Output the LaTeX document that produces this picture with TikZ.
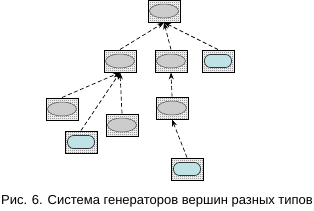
\documentclass[tikz,border=0pt]{standalone}
\usepackage{fontspec}
\setmainfont{Liberation Sans}
\usetikzlibrary{arrows.meta,patterns}
\pgfdeclarepatternformonly{finechecker}{\pgfpointorigin}{\pgfqpoint{2pt}{2pt}}{\pgfqpoint{2pt}{2pt}}{%
  \pgfpathrectangle{\pgfpointorigin}{\pgfqpoint{1pt}{1pt}}%
  \pgfpathrectangle{\pgfqpoint{1pt}{1pt}}{\pgfqpoint{1pt}{1pt}}%
  \pgfusepath{fill}}
\begin{document}
\begin{tikzpicture}[x=1pt,y=-1pt,
  genbox/.style={draw,line width=1pt,minimum width=32pt,minimum height=22pt,inner sep=0pt,
    pattern=finechecker,pattern color=black!60},
  grayoval/.style={genbox,path picture={\filldraw[draw=gray!60!black,fill=ovalgray,line width=.5pt]
    (path picture bounding box.center) ellipse[x radius=14.5pt,y radius=7pt];}},
  bluecap/.style={genbox,path picture={\filldraw[draw=gray!40!black,fill=capblue,line width=.7pt,rounded corners=6pt]
    ([xshift=-13.5pt,yshift=-6.5pt]path picture bounding box.center) rectangle
    ([xshift=13.5pt,yshift=6.5pt]path picture bounding box.center);}},
  genlink/.style={dash pattern=on 4pt off 2.5pt,line width=.7pt,-{Stealth[length=7pt,width=5pt]}}]
\definecolor{ovalgray}{RGB}{204,204,204}
\definecolor{capblue}{RGB}{190,226,230}
\useasboundingbox (0,0) rectangle (314,210);
\node[grayoval] (top) at (164,11) {};
\node[grayoval] (mleft) at (120,61) {};
\node[grayoval] (mmid) at (171,61) {};
\node[bluecap] (mright) at (218,61) {};
\node[grayoval] (lone) at (62,109) {};
\node[bluecap] (ltwo) at (81,142) {};
\node[grayoval] (lthree) at (122,125) {};
\node[grayoval] (rone) at (172,108) {};
\node[bluecap] (rtwo) at (187,169) {};
\draw[genlink] (mleft.north) -- (top.south);
\draw[genlink] (mmid.north) -- (top.south);
\draw[genlink] (mright.north) -- (top.south);
\draw[genlink] (lone.north) -- (mleft.south);
\draw[genlink] (ltwo.north) -- (mleft.south);
\draw[genlink] (lthree.north) -- (mleft.south);
\draw[genlink] (rone.north) -- (mmid.south);
\draw[genlink] (rtwo.north) -- (rone.south);
\node[font=\fontsize{13}{15}\selectfont,anchor=base] (caption) at (157,204) {Рис. 6. Система генераторов вершин разных типов};
\end{tikzpicture}
\end{document}
